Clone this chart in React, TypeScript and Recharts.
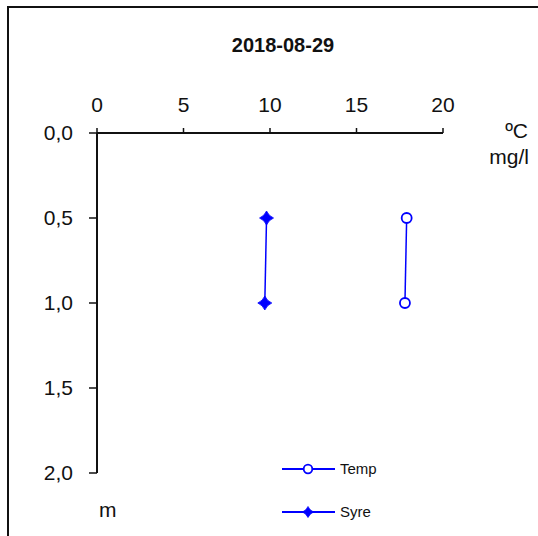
import React from 'react';
import { ScatterChart, Scatter, XAxis, YAxis, Legend } from 'recharts';

// Depth profile, 2018-08-29
const chartTitle = '2018-08-29';
const depths = [0.5, 1.0];
const tempValues = [17.9, 17.8];
const oxygenValues = [9.8, 9.7];
const seriesNames = ['Temp', 'Syre'];
const valueTicks = [0, 5, 10, 15, 20];
const depthTicks = [0, 0.5, 1.0, 1.5, 2.0];
const valueUnits = ['ºC', 'mg/l'];
const depthUnit = 'm';

const BLUE = '#0000ff';
const INK = '#111';
const FONT = '"Liberation Sans", Arial, sans-serif';
const TICK_FONT = 21;

const tempData = depths.map((d, i) => ({ depth: d, value: tempValues[i] }));
const oxygenData = depths.map((d, i) => ({ depth: d, value: oxygenValues[i] }));

const CircleMarker = ({ cx, cy, r = 5 }: any) => (
  <circle cx={cx} cy={cy} r={r} fill="#fff" stroke={BLUE} strokeWidth={1.8} />
);

const diamondPath = (cx: number, cy: number, h: number) => {
  const k = h * 0.3;
  return `M${cx},${cy - h} Q${cx + k},${cy - k} ${cx + h},${cy} Q${cx + k},${cy + k} ${cx},${cy + h} Q${cx - k},${cy + k} ${cx - h},${cy} Q${cx - k},${cy - k} ${cx},${cy - h} Z`;
};

const DiamondMarker = ({ cx, cy, h = 7 }: any) => (
  <path d={diamondPath(cx, cy, h)} fill={BLUE} stroke={BLUE} strokeWidth={0.8} />
);

const renderLegend = () => (
  <svg width={120} height={70} style={{ overflow: 'visible' }}>
    {seriesNames.map((name, i) => {
      const y = 11 + i * 43;
      return (
        <g key={name}>
          <line x1={2} x2={55} y1={y} y2={y} stroke={BLUE} strokeWidth={2} />
          {i === 0 ? <CircleMarker cx={28} cy={y} r={4.3} /> : <DiamondMarker cx={28} cy={y} h={5.5} />}
          <text x={60} y={y} dy="0.36em" fontSize={15} fontFamily={FONT} fill={INK}>
            {name}
          </text>
        </g>
      );
    })}
  </svg>
);

const ValueUnitLabel = ({ viewBox }: any) => {
  const right = viewBox.x + viewBox.width + 85;
  const base = viewBox.y + viewBox.height;
  return (
    <g fontFamily={FONT} fontSize={TICK_FONT} fill={INK} textAnchor="end">
      <text x={right} y={base + 5}>{valueUnits[0]}</text>
      <text x={right + 1} y={base + 31}>{valueUnits[1]}</text>
    </g>
  );
};

const DepthUnitLabel = ({ viewBox }: any) => (
  <text
    x={viewBox.x + 42}
    y={viewBox.y + viewBox.height + 44}
    fontFamily={FONT}
    fontSize={TICK_FONT}
    fill={INK}
    textAnchor="start"
  >
    {depthUnit}
  </text>
);

export default function App() {
  return (
    <div style={{ position: 'absolute', left: 0, top: 0, width: 538, height: 536, overflow: 'hidden', background: '#fff' }}>
      <div
        style={{
          position: 'absolute',
          left: 7,
          top: 6,
          width: 600,
          height: 600,
          borderLeft: '2px solid #111',
          borderTop: '2px solid #111',
          boxSizing: 'border-box',
        }}
      />
      <div
        style={{
          position: 'absolute',
          left: 0,
          top: 34,
          width: 566,
          textAlign: 'center',
          fontFamily: FONT,
          fontWeight: 'bold',
          fontSize: 20,
          color: INK,
        }}
      >
        {chartTitle}
      </div>
      <div style={{ position: 'absolute', left: 0, top: 0 }}>
        <ScatterChart width={538} height={536} margin={{ top: 103, right: 95, bottom: 63, left: 57 }}>
          <XAxis
            type="number"
            dataKey="value"
            orientation="top"
            domain={[0, 20]}
            ticks={valueTicks}
            interval={0}
            height={30}
            tickSize={5}
            tickMargin={16}
            axisLine={{ stroke: INK, strokeWidth: 2 }}
            tickLine={{ stroke: INK, strokeWidth: 1.5 }}
            tick={{ fill: INK, fontSize: TICK_FONT, fontFamily: FONT }}
            label={<ValueUnitLabel />}
          />
          <YAxis
            type="number"
            dataKey="depth"
            reversed
            domain={[0, 2]}
            ticks={depthTicks}
            interval={0}
            width={40}
            tickSize={8}
            tickMargin={16}
            tickFormatter={(v: number) => v.toFixed(1).replace('.', ',')}
            axisLine={{ stroke: INK, strokeWidth: 2 }}
            tickLine={{ stroke: INK, strokeWidth: 1.5 }}
            tick={{ fill: INK, fontSize: TICK_FONT, fontFamily: FONT }}
            label={<DepthUnitLabel />}
          />
          <Legend
            layout="vertical"
            align="center"
            verticalAlign="middle"
            content={renderLegend}
            wrapperStyle={{ position: 'absolute', left: 280, top: 458, width: 120, height: 70 }}
          />
          <Scatter
            name={seriesNames[0]}
            data={tempData}
            line={{ stroke: BLUE, strokeWidth: 1.5 }}
            shape={(p: any) => <CircleMarker cx={p.cx} cy={p.cy} r={5} />}
            isAnimationActive={false}
          />
          <Scatter
            name={seriesNames[1]}
            data={oxygenData}
            line={{ stroke: BLUE, strokeWidth: 1.5 }}
            shape={(p: any) => <DiamondMarker cx={p.cx} cy={p.cy} h={7} />}
            isAnimationActive={false}
          />
        </ScatterChart>
      </div>
    </div>
  );
}
